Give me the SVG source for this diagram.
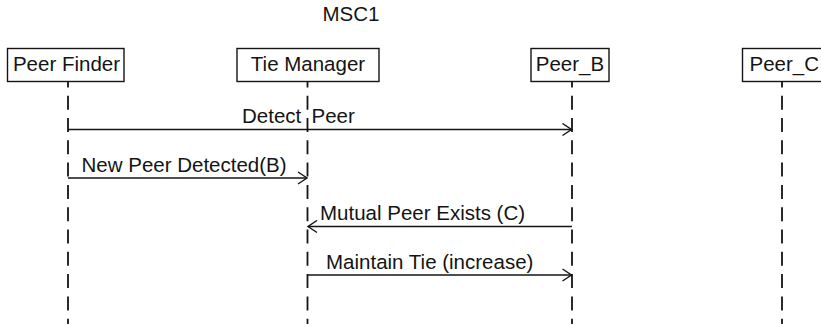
<svg xmlns="http://www.w3.org/2000/svg" width="821" height="327" viewBox="0 0 821 327">
  <style>
    .lbl { font-family: "Liberation Sans", Arial, Helvetica, sans-serif; font-size: 20.5px; fill: #141414; }
    .box { fill: #ffffff; stroke: #141414; stroke-width: 1.4; }
    .life { stroke: #141414; stroke-width: 1.8; stroke-dasharray: 14 8.3; stroke-dashoffset: 8.6; fill: none; }
    .msg { stroke: #141414; stroke-width: 1.3; fill: none; }
  </style>
  <defs>
    <marker id="open" markerWidth="12" markerHeight="14" refX="10" refY="7" orient="auto" markerUnits="userSpaceOnUse">
      <path d="M1,1 L10,7 L1,13" fill="none" stroke="#141414" stroke-width="1.4"/>
    </marker>
  </defs>

  <text class="lbl" x="351" y="20.7" text-anchor="middle">MSC1</text>

  <!-- lifelines -->
  <g id="lifelines">
    <line class="life" x1="68" y1="82" x2="68" y2="324"/>
    <line class="life" x1="307.5" y1="82" x2="307.5" y2="324"/>
    <line class="life" x1="572" y1="82" x2="572" y2="324"/>
    <line class="life" x1="782" y1="82" x2="782" y2="324"/>
  </g>

  <g id="peer-finder">
    <rect class="box" x="7.5" y="48.5" width="116.5" height="33"/>
    <text class="lbl" x="66.5" y="71" text-anchor="middle">Peer Finder</text>
  </g>
  <g id="tie-manager">
    <rect class="box" x="237" y="48.5" width="142" height="33"/>
    <text class="lbl" x="308" y="71" text-anchor="middle">Tie Manager</text>
  </g>
  <g id="peer-b">
    <rect class="box" x="531" y="48.5" width="78" height="33"/>
    <text class="lbl" x="570" y="71" text-anchor="middle">Peer_B</text>
  </g>
  <g id="peer-c">
    <rect class="box" x="742.5" y="48.5" width="90" height="33"/>
    <text class="lbl" x="749.5" y="71">Peer_C</text>
  </g>

  <!-- messages -->
  <g id="connectors">
    <line class="msg" x1="68" y1="129.5" x2="571.5" y2="129.5" marker-end="url(#open)"/>
    <text class="lbl" x="242" y="122.5">Detect <tspan dx="4.5">Peer</tspan></text>

    <line class="msg" x1="68" y1="178" x2="307" y2="178" marker-end="url(#open)"/>
    <text class="lbl" x="81.5" y="171.5">New Peer Detected(B)</text>

    <line class="msg" x1="572" y1="226.5" x2="308" y2="226.5" marker-end="url(#open)"/>
    <text class="lbl" x="320" y="220">Mutual Peer Exists (C)</text>

    <line class="msg" x1="307.5" y1="275" x2="571.5" y2="275" marker-end="url(#open)"/>
    <text class="lbl" x="326" y="268.5">Maintain Tie (increase)</text>
  </g>
</svg>
